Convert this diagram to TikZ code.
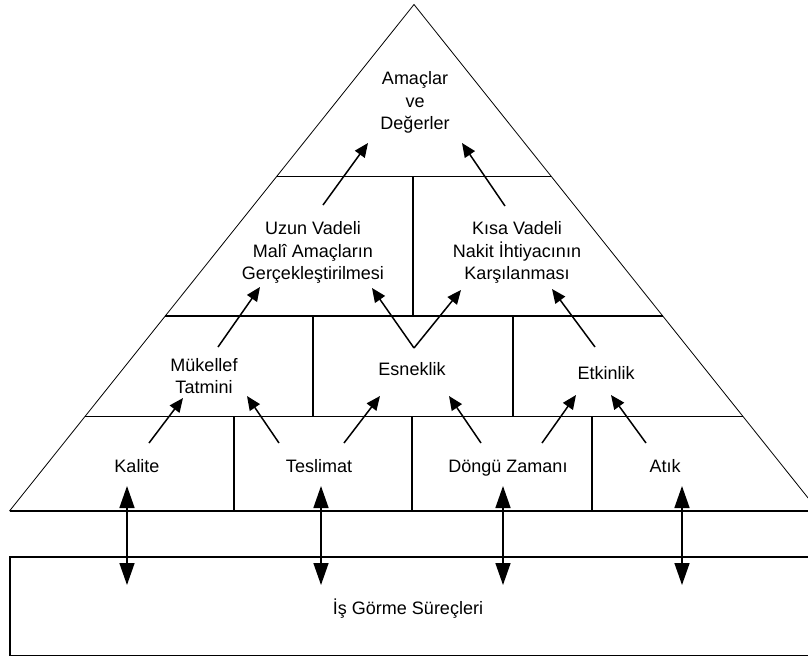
\documentclass[tikz,border=0pt]{standalone}
\usepackage{fontspec}
\setmainfont{Liberation Sans}
\usetikzlibrary{arrows.meta}
\begin{document}
\begin{tikzpicture}[x=1pt,y=-1pt,
  lbl/.style={font=\fontsize{18}{22.5}\selectfont, align=center, inner sep=0pt, anchor=base},
  side/.style={line width=0.8pt},
  divider/.style={line width=1.5pt},
  vdiv/.style={line width=1.2pt},
  flow/.style={line width=1.5pt, -{Triangle[length=14pt,width=12pt]}},
  link/.style={line width=1.5pt, {Triangle[length=22pt,width=15pt]}-{Triangle[length=22pt,width=15pt]}}]
\useasboundingbox (0,0) rectangle (808,657);
\clip (0,0) rectangle (808,657);
% pyramid
\coordinate (apex) at (414,4.5);
\coordinate (bl) at (9.5,511);
\coordinate (br) at (818.5,511);
\draw[side] (bl) -- (apex) -- (br);
\draw[vdiv] (bl) -- (br);
\draw[divider] (276.6,176.5) -- (551.4,176.5);
\draw[divider] (165.2,316) -- (662.8,316);
\draw[divider] (85,416.5) -- (743,416.5);
\draw[vdiv] (413,176.5) -- (413,316);
\draw[vdiv] (313,316) -- (313,416.5);
\draw[vdiv] (513,316) -- (513,416.5);
\draw[vdiv] (234,416.5) -- (234,511);
\draw[vdiv] (412,416.5) -- (412,511);
\draw[vdiv] (592,416.5) -- (592,511);
% process box
\draw[divider] (10,557) rectangle (830,655.5);
% texts (multi-line nodes: base anchor = last line baseline)
\node[lbl] (goals) at (415,129.5) {Amaçlar\\ve\\Değerler};
\node[lbl] (long) at (313,279.5) {Uzun Vadeli\\Malî Amaçların\\Gerçekleştirilmesi};
\node[lbl] (short) at (517,279.5) {Kısa Vadeli\\Nakit İhtiyacının\\Karşılanması};
\node[lbl] (sat) at (204,393.5) {Mükellef\\Tatmini};
\node[lbl] (flex) at (412,375.5) {Esneklik};
\node[lbl] (eff) at (606,379.5) {Etkinlik};
\node[lbl] (qual) at (137,472) {Kalite};
\node[lbl] (deliv) at (319,472) {Teslimat};
\node[lbl] (cycle) at (508,472) {Döngü Zamanı};
\node[lbl] (waste) at (665,472) {Atık};
\node[lbl] (proc) at (408,614.5) {İş Görme Süreçleri};
% arrow end points
\coordinate (a1s) at (323,205);  \coordinate (a1e) at (368,143);
\coordinate (a2s) at (505,206);  \coordinate (a2e) at (462,143);
\coordinate (a3s) at (218,347);  \coordinate (a3e) at (260,287);
\coordinate (vtx) at (414,348);
\coordinate (a4l) at (372,288);  \coordinate (a4r) at (461,290);
\coordinate (a5s) at (595,347);  \coordinate (a5e) at (552,289);
\coordinate (a6s) at (149,443);  \coordinate (a6e) at (183,398);
\coordinate (a7s) at (279,443);  \coordinate (a7e) at (247,396);
\coordinate (a8s) at (344,443);  \coordinate (a8e) at (380,396);
\coordinate (a9s) at (481,443);  \coordinate (a9e) at (449,396);
\coordinate (a10s) at (542,443); \coordinate (a10e) at (576,395);
\coordinate (a11s) at (646,443); \coordinate (a11e) at (611,395);
\draw[flow] (a1s) -- (a1e);
\draw[flow] (a2s) -- (a2e);
\draw[flow] (a3s) -- (a3e);
\draw[flow] (vtx) -- (a4l);
\draw[flow] (vtx) -- (a4r);
\draw[flow] (a5s) -- (a5e);
\draw[flow] (a6s) -- (a6e);
\draw[flow] (a7s) -- (a7e);
\draw[flow] (a8s) -- (a8e);
\draw[flow] (a9s) -- (a9e);
\draw[flow] (a10s) -- (a10e);
\draw[flow] (a11s) -- (a11e);
% vertical links
\coordinate (l1t) at (127,486); \coordinate (l1b) at (127,585);
\coordinate (l2t) at (321,486); \coordinate (l2b) at (321,585);
\coordinate (l3t) at (503,486); \coordinate (l3b) at (503,585);
\coordinate (l4t) at (682,486); \coordinate (l4b) at (682,585);
\draw[link] (l1t) -- (l1b);
\draw[link] (l2t) -- (l2b);
\draw[link] (l3t) -- (l3b);
\draw[link] (l4t) -- (l4b);
\end{tikzpicture}
\end{document}
